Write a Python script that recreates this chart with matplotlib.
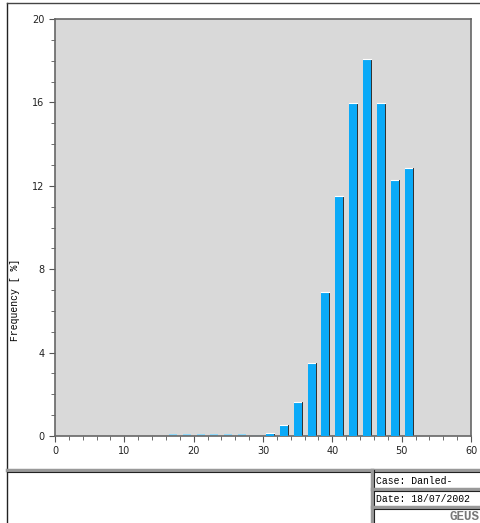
import numpy as np
import matplotlib
matplotlib.use("Agg")
import matplotlib.pyplot as plt
from matplotlib.lines import Line2D

# Histogram data (class centres and frequency in %)
centres = [17, 19, 21, 23, 25, 27, 29, 31, 33, 35, 37, 39, 41, 43, 45, 47, 49, 51]
freq = [0.08, 0.08, 0.08, 0.08, 0.08, 0.08, 0.04, 0.12, 0.52, 1.65, 3.5, 6.9,
        11.5, 15.95, 18.1, 15.95, 12.3, 12.85]
light = [True, True, True, True, True, True, True, False, False, False, False,
         False, False, False, False, False, False, False]

W, H = 481, 523
fig = plt.figure(figsize=(W / 100, H / 100), dpi=100)

ax = fig.add_axes([55 / W, 1 - 436 / H, 416 / W, 417 / H])
ax.set_facecolor("#d9d9d9")

bw = 1.15
for c, f, lt in zip(centres, freq, light):
    if lt:
        ax.bar(c, f, width=bw, color="#8fd8fb" if f > 0.05 else "#c4e9fb",
               edgecolor="none", zorder=2)
    else:
        # shadow on the right, then the bar
        ax.bar(c + 0.15, f, width=bw, color="#333333", edgecolor="none", zorder=2)
        ax.bar(c, f, width=bw, color="#0aaaf8", edgecolor="none", zorder=3)
        ax.plot([c - bw / 2, c + bw / 2 - 0.05], [f, f], color="white", lw=0.8, zorder=4)

ax.set_xlim(0, 60)
ax.set_ylim(0, 20)
ax.set_xticks(np.arange(0, 61, 10))
ax.set_xticks(np.arange(0, 61, 2), minor=True)
ax.set_yticks(np.arange(0, 21, 4))
ax.set_yticks(np.arange(0, 21, 1), minor=True)
ax.tick_params(which="both", direction="out", labelsize=7, color="#555555",
               labelcolor="#222222")
ax.tick_params(which="major", length=4)
ax.tick_params(which="minor", length=3)
for s in ax.spines.values():
    s.set_color("#666666")
    s.set_linewidth(1.2)

mono = "Liberation Mono"
fig.text(15 / W, 1 - 300 / H, "Frequency [ %]", rotation=90, ha="center",
         va="center", fontsize=7, family=mono)

# page frame
def hline(y, x0, x1, **kw):
    fig.add_artist(Line2D([x0 / W, x1 / W], [1 - y / H, 1 - y / H], **kw))

def vline(x, y0, y1, **kw):
    fig.add_artist(Line2D([x / W, x / W], [1 - y0 / H, 1 - y1 / H], **kw))

vline(7, 3, 523, color="#222222", lw=1)
hline(3, 7, 481, color="#444444", lw=1)
hline(470, 7, 481, color="#999999", lw=2.5)
hline(472, 7, 481, color="#222222", lw=0.8)
vline(372, 470, 523, color="#999999", lw=2.5)
vline(374, 470, 523, color="#222222", lw=0.8)
hline(489, 372, 481, color="#999999", lw=2.5)
hline(491, 374, 481, color="#222222", lw=0.8)
hline(507, 372, 481, color="#999999", lw=2.5)
hline(509, 374, 481, color="#222222", lw=0.8)

fig.text(376 / W, 1 - 481 / H, "Case: Danled-", fontsize=7, family=mono, va="center")
fig.text(376 / W, 1 - 499 / H, "Date: 18/07/2002", fontsize=7, family=mono, va="center")
fig.text(480 / W, 1 - 517 / H, "GEUS", fontsize=9, family=mono, weight="bold",
         color="#777777", ha="right", va="center")

fig.savefig("out.png", dpi=100)
